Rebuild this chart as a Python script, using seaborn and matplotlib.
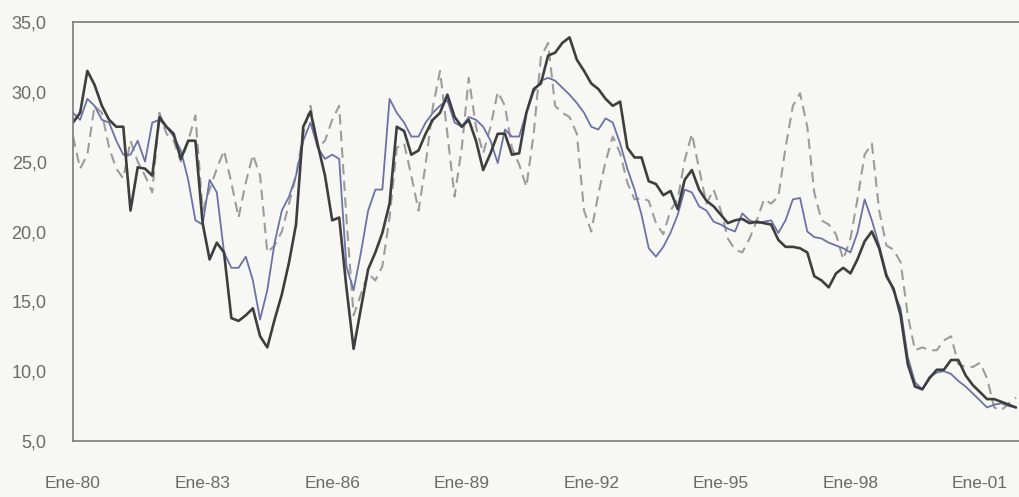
import numpy as np
import pandas as pd
import matplotlib
matplotlib.use("Agg")
import matplotlib.pyplot as plt
import seaborn as sns

# Bimonthly readings, Jan-1980 to Nov-2001
start = "1980-01-01"

serie_oscura = [
    27.8, 28.5, 31.5, 30.5, 29.0, 28.0, 27.5, 27.5, 21.5, 24.6, 24.5, 24.0,
    28.2, 27.5, 27.0, 25.2, 26.5, 26.5, 20.6, 18.0, 19.2, 18.5, 13.8, 13.6,
    14.0, 14.5, 12.5, 11.7, 13.7, 15.5, 17.8, 20.5, 27.5, 28.6, 26.2, 24.0,
    20.8, 21.0, 16.0, 11.6, 14.5, 17.3, 18.5, 19.9, 22.0, 27.5, 27.2, 25.5,
    25.8, 27.0, 28.0, 28.5, 29.8, 28.2, 27.5, 28.0, 26.5, 24.4, 25.6, 27.0,
    27.0, 25.5, 25.6, 28.5, 30.2, 30.6, 32.6, 32.8, 33.5, 33.9, 32.3, 31.5,
    30.6, 30.2, 29.5, 29.0, 29.3, 26.0, 25.3, 25.3, 23.6, 23.4, 22.6, 22.9,
    21.6, 23.7, 24.4, 23.0, 22.2, 21.8, 21.2, 20.6, 20.8, 20.9, 20.6, 20.7,
    20.6, 20.5, 19.4, 18.9, 18.9, 18.8, 18.5, 16.8, 16.5, 16.0, 17.0, 17.4,
    17.0, 18.0, 19.3, 20.0, 18.8, 16.8, 15.9, 14.0, 10.5, 8.9, 8.7, 9.5,
    10.1, 10.1, 10.8, 10.8, 9.7, 9.0, 8.5, 8.0, 8.0, 7.8, 7.6, 7.4,
]

serie_azul = [
    28.5, 28.0, 29.5, 29.0, 28.0, 27.8, 26.5, 25.5, 25.5, 26.5, 25.0, 27.8,
    28.0, 27.5, 26.8, 25.8, 23.7, 20.8, 20.5, 23.7, 22.8, 18.5, 17.4, 17.4,
    18.2, 16.5, 13.7, 15.8, 19.2, 21.5, 22.5, 24.0, 26.5, 27.8, 26.0, 25.2,
    25.5, 25.2, 17.5, 15.8, 18.5, 21.5, 23.0, 23.0, 29.5, 28.5, 27.8, 26.8,
    26.8, 27.8, 28.5, 29.0, 29.4, 27.8, 27.5, 28.2, 28.0, 27.5, 26.5, 24.9,
    27.3, 26.8, 26.8, 28.5, 30.0, 30.8, 31.0, 30.8, 30.3, 29.8, 29.2, 28.5,
    27.5, 27.3, 28.1, 27.8, 26.3, 24.5, 23.0, 21.2, 18.8, 18.2, 18.9, 19.9,
    21.2, 23.0, 22.8, 21.8, 21.5, 20.7, 20.5, 20.2, 20.0, 21.3, 20.8, 20.6,
    20.7, 20.8, 19.9, 20.8, 22.3, 22.4, 20.0, 19.6, 19.5, 19.2, 19.0, 18.8,
    18.5, 19.9, 22.3, 20.8, 19.0, 17.0, 15.7, 14.5, 11.0, 9.2, 8.7, 9.6,
    9.9, 10.0, 9.8, 9.3, 8.9, 8.4, 7.9, 7.4, 7.6, 7.7, 7.5, 7.4,
]

serie_trazos = [
    26.8, 24.5, 25.5, 29.0, 28.5, 26.0, 24.5, 23.8, 26.5, 25.0, 24.0, 22.8,
    28.5, 27.0, 26.5, 25.0, 26.5, 28.3, 21.5, 23.0, 24.5, 25.8, 23.5, 21.0,
    23.5, 25.5, 24.0, 18.5, 19.0, 20.0, 22.0, 24.0, 27.0, 29.0, 26.0, 26.5,
    28.0, 29.0, 21.0, 14.0, 15.5, 17.0, 16.5, 17.5, 21.0, 26.0, 26.3, 24.0,
    21.5, 24.8, 28.9, 31.5, 27.0, 22.5, 26.0, 31.0, 27.5, 25.6, 27.5, 30.0,
    29.0, 26.0, 24.8, 23.2, 27.0, 32.5, 33.5, 29.0, 28.5, 28.2, 27.0, 21.5,
    20.0, 22.7, 25.0, 26.8, 25.6, 23.5, 22.3, 22.4, 22.2, 20.6, 19.8, 21.5,
    22.3, 25.1, 27.0, 24.5, 22.0, 23.0, 21.5, 19.5, 18.7, 18.5, 19.5, 20.8,
    22.3, 22.0, 22.5, 26.0, 29.0, 29.9, 27.5, 22.8, 20.8, 20.5, 19.8, 18.0,
    19.5, 22.3, 25.5, 26.3, 21.5, 19.0, 18.7, 17.8, 14.0, 11.5, 11.7, 11.5,
    11.5, 12.2, 12.5, 10.5, 10.3, 10.3, 10.6, 9.5, 7.4, 7.2, 7.7, 8.1,
]

tick_years = [1980, 1983, 1986, 1989, 1992, 1995, 1998, 2001]
tick_labels = ["Ene-80", "Ene-83", "Ene-86", "Ene-89", "Ene-92", "Ene-95", "Ene-98", "Ene-01"]
y_ticks = [5, 10, 15, 20, 25, 30, 35]

fechas = pd.date_range(start, periods=len(serie_oscura), freq="2MS")
df = pd.DataFrame({
    "fecha": fechas,
    "oscura": serie_oscura,
    "azul": serie_azul,
    "trazos": serie_trazos,
})

sns.set_style("white")
plt.rcParams["font.family"] = ["Liberation Sans", "DejaVu Sans"]

bg = "#f7f8f4"
txt = "#6a6a6a"
spine = "#7a7a7a"

fig = plt.figure(figsize=(10.2, 4.97), dpi=100, facecolor=bg)
ax = fig.add_axes([0.0716, 0.1127, 0.9284, 0.843])
ax.set_facecolor(bg)

sns.lineplot(data=df, x="fecha", y="trazos", ax=ax, color="#9c9c9c",
             linewidth=1.5, linestyle=(0, (5, 3)))
sns.lineplot(data=df, x="fecha", y="azul", ax=ax, color="#6c72a6", linewidth=1.3)
sns.lineplot(data=df, x="fecha", y="oscura", ax=ax, color="#3e3e3e", linewidth=1.9)

ax.set_xlim(pd.Timestamp("1980-01-01"), pd.Timestamp("2001-12-05"))
ax.set_ylim(5, 35)
ax.set_xlabel("")
ax.set_ylabel("")

ax.set_xticks([pd.Timestamp(f"{y}-01-01") for y in tick_years])
ax.set_xticklabels(tick_labels)
ax.set_yticks(y_ticks)
ax.set_yticklabels([f"{v:.1f}".replace(".", ",") for v in y_ticks])

ax.tick_params(axis="x", direction="in", length=3, width=1, color=spine,
               pad=25, labelsize=12.5, labelcolor=txt)
ax.tick_params(axis="y", direction="in", length=7, width=1, color=spine,
               pad=19, labelsize=13, labelcolor=txt)

for side in ["left", "bottom", "top"]:
    ax.spines[side].set_color(spine)
    ax.spines[side].set_linewidth(1.2)
ax.spines["right"].set_visible(False)

fig.savefig("out.png", dpi=100, facecolor=bg)
